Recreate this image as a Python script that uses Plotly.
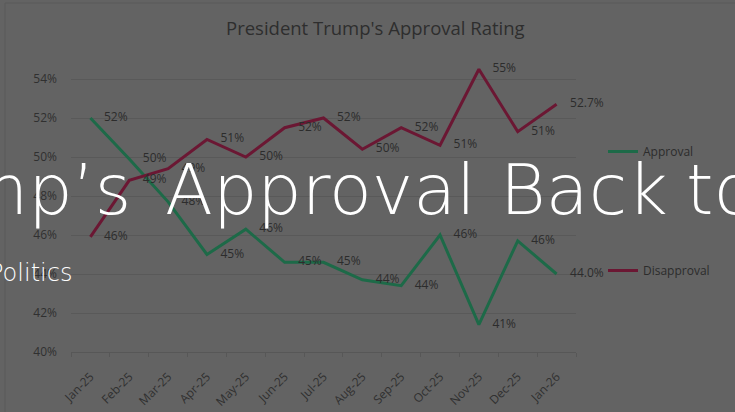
import plotly.graph_objects as go

months = ["Jan-25", "Feb-25", "Mar-25", "Apr-25", "May-25", "Jun-25", "Jul-25",
          "Aug-25", "Sep-25", "Oct-25", "Nov-25", "Dec-25", "Jan-26"]
approval = [52.0, 49.9, 47.7, 45.0, 46.3, 44.6, 44.6, 43.7, 43.4, 46.0, 41.4, 45.7, 44.0]
disapproval = [45.9, 48.8, 49.4, 50.9, 50.0, 51.5, 52.0, 50.4, 51.5, 50.6, 54.5, 51.3, 52.7]
approval_labels = ["52%", "50%", "48%", "45%", "46%", "45%", "45%", "44%", "44%", "46%", "41%", "46%", "44.0%"]
disapproval_labels = ["46%", "49%", "49%", "51%", "50%", "52%", "52%", "50%", "52%", "51%", "55%", "51%", "52.7%"]
y_ticks = [40, 42, 44, 46, 48, 50, 52, 54]
y_tick_labels = ["40%", "42%", "44%", "46%", "48%", "50%", "52%", "54%"]

BG = "#636363"
GREEN = "#1d6a48"
RED = "#6b1733"
DARK = "#2c2c2c"
FONT = "Open Sans"

# pixel layout of the plot area (y range 40..56)
L, R, T, B = 71, 576, 40, 352
W, H = 735, 412


def xp(px):
    return (px - L) / (R - L)


def yp(py):
    return (B - py) / (B - T)


fig = go.Figure()
fig.add_trace(go.Scatter(
    x=months, y=approval, name="Approval", mode="lines+markers+text",
    line=dict(color=GREEN, width=3),
    marker=dict(size=20, color="rgba(0,0,0,0)"),
    text=approval_labels, textposition="middle right",
    textfont=dict(family=FONT, size=12, color=DARK),
    cliponaxis=False, legendgroup="a", hoverinfo="skip",
))
fig.add_trace(go.Scatter(
    x=months, y=disapproval, name="Disapproval", mode="lines+markers+text",
    line=dict(color=RED, width=3),
    marker=dict(size=20, color="rgba(0,0,0,0)"),
    text=disapproval_labels, textposition="middle right",
    textfont=dict(family=FONT, size=12, color=DARK),
    cliponaxis=False, legendgroup="b", hoverinfo="skip",
))

annotations = [
    dict(text="President Trump's Approval Rating", x=xp(375), y=yp(28),
         xref="paper", yref="paper", showarrow=False,
         font=dict(family=FONT, size=18.5, color="#2e2e2e"), xanchor="center", yanchor="middle"),
]

white = dict(family="DejaVu Sans", size=70, color="white", weight=200)
for word, px, anchor in [("mp’s", 133, "right"), ("Approval", 163, "left"),
                         ("Back", 498, "left"), ("to", 684, "left")]:
    annotations.append(dict(text=word, x=xp(px), y=yp(190), xref="paper", yref="paper",
                            showarrow=False, font=white, xanchor=anchor, yanchor="middle"))
annotations.append(dict(text="Politics", x=xp(74), y=yp(273), xref="paper", yref="paper",
                        showarrow=False, font=dict(family="DejaVu Sans", size=24, color="white", weight=200),
                        xanchor="right", yanchor="middle"))

shapes = [
    dict(type="line", xref="paper", yref="paper", x0=xp(5), x1=xp(5), y0=yp(3), y1=yp(412),
         line=dict(color="#5a5a5a", width=1)),
    dict(type="line", xref="paper", yref="paper", x0=xp(5), x1=xp(735), y0=yp(3), y1=yp(3),
         line=dict(color="#5a5a5a", width=1)),
]

fig.update_layout(
    width=W, height=H,
    margin=dict(l=L, r=W - R, t=T, b=H - B, autoexpand=False),
    paper_bgcolor=BG, plot_bgcolor=BG,
    font=dict(family=FONT, size=12, color="#333333"),
    showlegend=True,
    legend=dict(x=xp(603), y=yp(137), xanchor="left", yanchor="top",
                bgcolor="rgba(0,0,0,0)", font=dict(family=FONT, size=12, color=DARK),
                tracegroupgap=100),
    annotations=annotations,
    shapes=shapes,
    hovermode=False,
)
fig.update_xaxes(type="category", range=[-0.5, 12.5], tickson="boundaries", ticks="outside", ticklen=4,
                 tickcolor="#575757", showline=True, linecolor="#575757", linewidth=1,
                 showgrid=False, tickangle=-45, ticklabelstandoff=12, automargin=False,
                 tickfont=dict(family=FONT, size=12, color="#303030"))
fig.update_yaxes(range=[40, 56], tickvals=y_ticks, ticktext=y_tick_labels, showgrid=True,
                 gridcolor="#595959", zeroline=False, showline=False, ticklabelstandoff=13,
                 automargin=False, tickfont=dict(family=FONT, size=12, color="#303030"))

fig.write_html("out.html", config={"displayModeBar": False},
               post_script="document.body.style.margin='0';document.body.style.overflow='hidden';")
